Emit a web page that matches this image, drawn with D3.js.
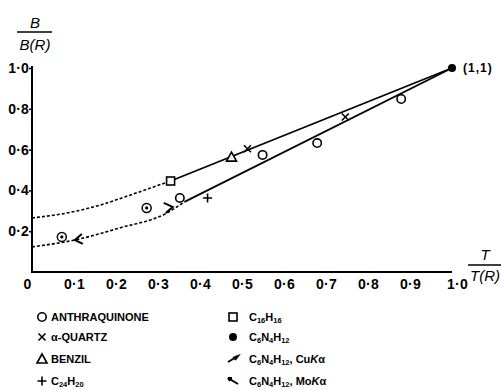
<!DOCTYPE html>
<html><head><meta charset="utf-8">
<script src="https://cdn.jsdelivr.net/npm/d3@7/dist/d3.min.js"></script>
<style>body{margin:0;background:#fff}svg{display:block}</style>
</head><body><svg id="c" width="501" height="390"></svg>
<script>
// ---- data ----
const xTicks = [0,0.1,0.2,0.3,0.4,0.5,0.6,0.7,0.8,0.9,1.0];
const xTickLabels = ["0","0·1","0·2","0·3","0·4","0·5","0·6","0·7","0·8","0·9","1·0"];
const yTicks = [0.2,0.4,0.6,0.8,1.0];
const yTickLabels = ["0·2","0·4","0·6","0·8","1·0"];
const anthraX = [0.352,0.549,0.679,0.879];
const anthraY = [0.363,0.574,0.632,0.848];
const quartzX = [0.513,0.746];
const quartzY = [0.604,0.760];
const benzilX = [0.475];
const benzilY = [0.563];
const c24X = [0.418];
const c24Y = [0.363];
const c16X = [0.330];
const c16Y = [0.446];
const c6X = [1.0];
const c6Y = [1.0];
const dotCircX = [0.071,0.273];
const dotCircY = [0.172,0.314];
const cuX = [0.335]; const cuY = [0.319];
const moX = [0.102]; const moY = [0.157];
const upperDashX = [0,0.08,0.162,0.221,0.28,0.33];
const upperDashY = [0.265,0.288,0.328,0.368,0.41,0.446];
const upperSolidX = [0.33,1.0];
const upperSolidY = [0.446,1.0];
const lowerDashX = [0,0.102,0.209,0.321,0.363];
const lowerDashY = [0.123,0.157,0.216,0.289,0.344];
const lowerSolidX = [0.363,1.0];
const lowerSolidY = [0.344,1.0];
const legendCol1 = ["ANTHRAQUINONE","α-QUARTZ","BENZIL","C_{24}H_{20}"];
const legendCol2 = ["C_{16}H_{16}","C_{6}N_{4}H_{12}","C_{6}N_{4}H_{12}, Cu*K*α","C_{6}N_{4}H_{12}, Mo*K*α"];

// ---- chart ----
const svg = d3.select("#c");
const x = d3.scaleLinear().domain([0,1]).range([32,452]);
const y = d3.scaleLinear().domain([0,1]).range([272,68]);
const F = "'Liberation Sans', Arial, sans-serif";

// axes
svg.append("line").attr("x1",x(0)).attr("x2",x(1)).attr("y1",y(0)).attr("y2",y(0)).attr("stroke","#000").attr("stroke-width",2);
svg.append("line").attr("x1",x(0)).attr("x2",x(0)).attr("y1",y(0)+1).attr("y2",y(1)-2).attr("stroke","#000").attr("stroke-width",2);

const xa = svg.append("g").attr("transform",`translate(0,${y(0)})`)
  .call(d3.axisBottom(x).tickValues(xTicks).tickSize(0).tickPadding(7).tickFormat((d,i)=>xTickLabels[i]));
xa.select(".domain").remove();
xa.selectAll("text").attr("font-family",F).attr("font-weight","bold").attr("font-size",14).attr("letter-spacing",0.3).attr("fill","#000")
  .attr("dx",(d,i)=> i===0?-5:(i===10?5:0));

const ya = svg.append("g").attr("transform",`translate(${x(0)},0)`)
  .call(d3.axisLeft(y).tickValues(yTicks).tickSize(3).tickPadding(0).tickFormat((d,i)=>yTickLabels[i]));
ya.select(".domain").remove();
ya.selectAll("line").attr("stroke","#000").attr("stroke-width",1.5);
ya.selectAll("text").attr("font-family",F).attr("font-weight","bold").attr("font-size",14).attr("letter-spacing",0.2).attr("fill","#000");

// axis titles
function frac(cx, top, bottom, yNum, yLine, yDen, x1, x2) {
  svg.append("text").attr("x",cx).attr("y",yNum).attr("text-anchor","middle").attr("font-family",F).attr("font-style","italic").attr("font-size",15).text(top);
  svg.append("line").attr("x1",x1).attr("x2",x2).attr("y1",yLine).attr("y2",yLine).attr("stroke","#000").attr("stroke-width",1.3);
  svg.append("text").attr("x",cx).attr("y",yDen).attr("text-anchor","middle").attr("font-family",F).attr("font-style","italic").attr("font-size",15).text(bottom);
}
frac(35,"B","B(R)",28,32,50,17,52);
frac(485,"T","T(R)",260,265,281,468,501);

// lines
const lg = d3.line().x(d=>x(d[0])).y(d=>y(d[1]));
const lgc = d3.line().x(d=>x(d[0])).y(d=>y(d[1])).curve(d3.curveMonotoneX);
const zip = (a,b)=>a.map((v,i)=>[v,b[i]]);
svg.append("path").attr("d",lgc(zip(upperDashX,upperDashY))).attr("fill","none").attr("stroke","#000").attr("stroke-width",1.6).attr("stroke-dasharray","3,2");
svg.append("path").attr("d",lgc(zip(lowerDashX,lowerDashY))).attr("fill","none").attr("stroke","#000").attr("stroke-width",1.6).attr("stroke-dasharray","3,2");
svg.append("path").attr("d",lg(zip(upperSolidX,upperSolidY))).attr("fill","none").attr("stroke","#000").attr("stroke-width",1.8);
svg.append("path").attr("d",lg(zip(lowerSolidX,lowerSolidY))).attr("fill","none").attr("stroke","#000").attr("stroke-width",1.8);

// markers
const sw = 1.6;
function openCircle(g,cx,cy){ g.append("circle").attr("cx",cx).attr("cy",cy).attr("r",4.2).attr("fill","#fff").attr("stroke","#000").attr("stroke-width",sw); }
function cross(g,cx,cy){ g.append("path").attr("d",`M${cx-3.5},${cy-3.5}L${cx+3.5},${cy+3.5}M${cx+3.5},${cy-3.5}L${cx-3.5},${cy+3.5}`).attr("stroke","#000").attr("stroke-width",sw).attr("fill","none"); }
function tri(g,cx,cy){ g.append("path").attr("d",`M${cx},${cy-5}L${cx+5},${cy+4}L${cx-5},${cy+4}Z`).attr("fill","#fff").attr("stroke","#000").attr("stroke-width",sw); }
function plus(g,cx,cy){ g.append("path").attr("d",`M${cx-4.5},${cy}L${cx+4.5},${cy}M${cx},${cy-4.5}L${cx},${cy+4.5}`).attr("stroke","#000").attr("stroke-width",sw).attr("fill","none"); }
function square(g,cx,cy){ g.append("rect").attr("x",cx-4).attr("y",cy-4).attr("width",8).attr("height",8).attr("fill","#fff").attr("stroke","#000").attr("stroke-width",sw); }
function filled(g,cx,cy){ g.append("circle").attr("cx",cx).attr("cy",cy).attr("r",4).attr("fill","#000"); }
function dotCirc(g,cx,cy){ g.append("circle").attr("cx",cx).attr("cy",cy).attr("r",4.5).attr("fill","#fff").attr("stroke","#000").attr("stroke-width",1.5); g.append("circle").attr("cx",cx).attr("cy",cy).attr("r",1.6).attr("fill","#000"); }
function arrowR(g,cx,cy){ g.append("path").attr("d",`M${cx-9},${cy-4}L${cx},${cy}L${cx-7},${cy+6}`).attr("stroke","#000").attr("stroke-width",2).attr("fill","none"); }
function arrowL(g,cx,cy){ g.append("path").attr("d",`M${cx+7},${cy-6}L${cx},${cy}L${cx+8},${cy+4}`).attr("stroke","#000").attr("stroke-width",2).attr("fill","none"); }
function cuSym(g,cx,cy){ g.append("path").attr("d",`M${cx-5},${cy+3}L${cx+5},${cy-3}M${cx},${cy-1}L${cx+5},${cy-3}L${cx+2},${cy+1}`).attr("stroke","#000").attr("stroke-width",2).attr("fill","none"); }
function moSym(g,cx,cy){ g.append("path").attr("d",`M${cx-5},${cy-3}L${cx+5},${cy+3}M${cx-5},${cy-3}L${cx-1},${cy-3}M${cx-5},${cy-3}L${cx-3},${cy}`).attr("stroke","#000").attr("stroke-width",2).attr("fill","none"); }

const mk = svg.append("g");
anthraX.forEach((v,i)=>openCircle(mk,x(v),y(anthraY[i])));
quartzX.forEach((v,i)=>cross(mk,x(v),y(quartzY[i])));
benzilX.forEach((v,i)=>tri(mk,x(v),y(benzilY[i])));
c24X.forEach((v,i)=>plus(mk,x(v),y(c24Y[i])));
c16X.forEach((v,i)=>square(mk,x(v),y(c16Y[i])));
c6X.forEach((v,i)=>filled(mk,x(v),y(c6Y[i])));
dotCircX.forEach((v,i)=>dotCirc(mk,x(v),y(dotCircY[i])));
cuX.forEach((v,i)=>arrowR(mk,x(v),y(cuY[i])));
moX.forEach((v,i)=>arrowL(mk,x(v),y(moY[i])));

svg.append("text").attr("x",x(1)+11).attr("y",y(1)+4).attr("font-family",F).attr("font-weight","bold").attr("font-size",12).attr("letter-spacing",1).text("(1,1)");

// legend
function richText(xp, yp, s){
  const t = svg.append("text").attr("x",xp).attr("y",yp+4).attr("font-family",F).attr("font-weight","bold").attr("font-size",11).attr("fill","#000");
  const re = /_\{([^}]*)\}|\*([^*]*)\*|([^_*]+)/g; let m;
  while((m = re.exec(s))){
    if(m[1]!==undefined){ t.append("tspan").attr("font-size",7.5).attr("baseline-shift","-2").text(m[1]); }
    else if(m[2]!==undefined){ t.append("tspan").attr("font-style","italic").text(m[2]); }
    else { t.append("tspan").text(m[3]); }
  }
}
const rows = [317,337,359,381];
const col1Sym = [openCircle,cross,tri,plus];
const col2Sym = [square,filled,cuSym,moSym];
legendCol1.forEach((s,i)=>{ col1Sym[i](svg,42,rows[i]); richText(51,rows[i],s); });
legendCol2.forEach((s,i)=>{ col2Sym[i](svg,233,rows[i]); richText(249,rows[i],s); });
</script></body></html>
